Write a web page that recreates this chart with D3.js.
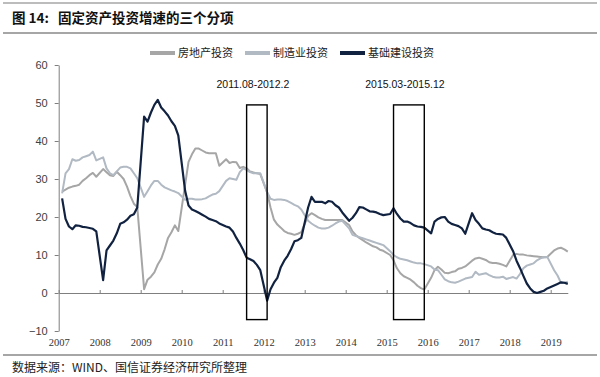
<!DOCTYPE html>
<html>
<head>
<meta charset="utf-8">
<script src="https://cdn.jsdelivr.net/npm/d3@7"></script>
<style>
  body { margin: 0; background: #fff; }
  svg { display: block; font-family: "Liberation Sans", Arial, sans-serif; }
</style>
</head>
<body>
<div id="chart"></div>
<script>
// tick labels / categories
var years = [2007, 2008, 2009, 2010, 2011, 2012, 2013, 2014, 2015, 2016, 2017, 2018, 2019];
var yTicks = [-10, 0, 10, 20, 30, 40, 50, 60];
// cumulative data is reported Feb..Dec (Jan merged into Feb); 2019 ends in June
var fullYearMonths = [2, 3, 4, 5, 6, 7, 8, 9, 10, 11, 12];
var lastYearMonths = [2, 3, 4, 5, 6];

var seriesNames = ["房地产投资", "制造业投资", "基础建设投资"];
var seriesColors = ["#a6a6a6", "#b1b9c3", "#112240"];

// 房地产投资 (%), one row per year
var realEstate = [
  26.7, 27.2, 27.7, 28.0, 28.2, 28.5, 29.5, 30.2, 31.0, 31.6, 30.6,
  32.6, 31.8, 31.0, 30.8, 31.9, 31.0, 30.0, 28.0, 25.5, 23.5, 22.6,
  1.0, 3.5, 4.3, 5.4, 7.5, 9.0, 11.5, 14.5, 16.0, 17.8, 16.3,
  28.5, 34.5, 36.5, 38.0, 38.0, 37.5, 37.0, 36.8, 36.8, 36.8, 33.5,
  35.2, 34.2, 34.5, 34.4, 32.9, 33.2, 32.8, 32.0, 31.7, 31.5, 31.3,
  26.5, 22.5, 19.3, 18.0, 17.2, 16.3, 15.8, 15.6, 15.3, 15.6, 16.0,
  20.3, 21.0, 20.5, 19.9, 19.5, 19.2, 19.2, 19.2, 19.2, 19.2, 19.2,
  17.9, 16.2, 15.2, 14.5, 13.9, 13.3, 12.8, 12.3, 12.0, 11.4, 11.1,
  10.0, 8.6, 6.5, 5.2, 4.4, 4.0, 3.5, 2.8, 1.9, 1.3, 0.9,
  4.0, 6.0, 6.9, 6.2, 5.3, 5.2, 5.5, 5.7, 6.4, 6.6, 7.0,
  8.5, 9.1, 9.3, 9.0, 8.7, 8.1, 7.9, 7.9, 7.7, 7.4, 7.0,
  10.0, 10.3, 10.1, 10.1, 9.9, 9.8, 9.7, 9.6, 9.5, 9.4, 9.5,
  11.2, 11.7, 11.9, 11.5, 10.9
];

// 制造业投资 (%)
var manufacturing = [
  26.2, 31.5, 32.6, 35.2, 34.8, 35.0, 35.7, 36.0, 36.3, 37.2, 34.9,
  35.7, 32.8, 31.5, 31.0, 32.0, 33.0, 33.2, 33.2, 32.8, 31.5, 30.2,
  25.3, 26.8, 28.3, 29.5, 29.5, 28.5, 27.8, 27.4, 27.0, 26.7, 26.3,
  24.5, 24.8, 24.8, 24.6, 24.6, 24.7, 24.9, 25.4, 25.9, 26.1, 26.8,
  29.5, 30.2, 30.0, 29.8, 31.8, 32.8, 32.4, 31.8, 31.5, 31.5, 31.5,
  26.5, 24.8, 24.5, 24.6, 24.6, 24.5, 24.2, 23.7, 23.2, 22.8, 22.0,
  19.0, 18.3, 17.7, 17.2, 17.0, 17.0, 17.2, 17.7, 18.3, 18.8, 19.0,
  17.0, 15.3, 15.0, 14.7, 14.4, 14.1, 13.8, 13.5, 13.2, 12.9, 12.6,
  11.0, 10.0, 9.4, 9.0, 8.8, 8.6, 8.3, 8.0, 7.8, 7.8, 7.6,
  7.0, 6.2, 6.0, 4.8, 3.6, 3.1, 2.8, 2.7, 3.0, 3.4, 3.8,
  4.2, 5.6, 4.8, 5.0, 5.2, 4.7, 4.3, 4.1, 4.1, 4.3, 3.7,
  4.2, 3.8, 5.0, 6.5, 7.2, 7.5, 7.8, 8.6, 9.1, 9.4, 9.5,
  6.0, 4.6, 2.7, 2.7, 3.0
];

// 基础建设投资 (%)
var infrastructure = [
  24.9, 19.5, 17.5, 16.8, 17.8, 17.7, 17.4, 17.3, 17.1, 16.9, 16.2,
  3.4, 11.2, 12.5, 13.8, 15.7, 18.2, 18.6, 19.3, 20.3, 20.7, 22.5,
  46.4, 45.1, 47.5, 49.5, 50.8, 48.8, 47.8, 46.7, 45.2, 44.0, 41.5,
  26.9, 23.0, 22.0, 21.6, 21.1, 20.6, 20.1, 19.5, 19.2, 18.9, 18.3,
  17.5, 17.2, 16.2, 14.5, 13.0, 11.3, 9.3, 8.9, 8.4, 7.4, 6.0,
  -2.0, 1.0, 2.7, 4.0, 6.8, 8.5, 9.8, 11.5, 13.6, 13.9, 14.5,
  22.5, 25.3, 24.0, 24.0, 24.0, 23.6, 24.2, 24.0, 23.1, 22.5, 21.2,
  19.0, 19.8, 21.0, 22.6, 22.5, 22.0, 21.5, 21.4, 21.2, 20.8, 20.5,
  20.8, 22.3, 20.8, 19.6, 18.8, 18.8, 18.4, 17.8, 17.5, 17.4, 17.2,
  15.7, 18.8, 19.5, 19.9, 20.0, 18.8, 18.2, 17.9, 17.6, 17.0, 15.6,
  21.0, 19.2, 18.2, 17.0, 16.7, 16.5, 16.0, 15.6, 15.5, 15.4, 14.5,
  11.0, 8.5, 6.6, 4.5, 2.5, 1.2, 0.3, 0.0, 0.3, 0.6, 1.2,
  2.0, 2.4, 2.8, 2.7, 2.4
];

// highlighted windows
var windowLabels = ["2011.08-2012.2", "2015.03-2015.12"];
var windowFrom = [[2011, 8], [2015, 3]];
var windowTo = [[2012, 2], [2015, 12]];
var windowRange = [-7, 49.5];

function init() {
    var w = 600, h = 377;

    // month positions as decimal years
    var dates = [];
    years.forEach(function(y) {
        var ms = (y === 2019) ? lastYearMonths : fullYearMonths;
        ms.forEach(function(m) { dates.push(y + (m - 1) / 12); });
    });
    function ym(p) { return p[0] + (p[1] - 1) / 12; }

    var x0 = 58.7, yearW = 41;
    var xScale = d3.scaleLinear()
                   .domain([2007, 2019 + 5 / 12])
                   .range([x0, x0 + yearW * (12 + 5 / 12)]);
    var yScale = d3.scaleLinear()
                   .domain([-10, 60])
                   .range([331, 65]);

    var svg = d3.select("#chart").append("svg")
                .attr("width", w)
                .attr("height", h);

    // header / footer rules
    svg.append("line").attr("x1", 3).attr("x2", 597).attr("y1", 3).attr("y2", 3)
       .attr("stroke", "#a6a6a6").attr("stroke-width", 1.5);
    svg.append("line").attr("x1", 3).attr("x2", 597).attr("y1", 33).attr("y2", 33)
       .attr("stroke", "#a6a6a6").attr("stroke-width", 2);
    svg.append("line").attr("x1", 3).attr("x2", 597).attr("y1", 355).attr("y2", 355)
       .attr("stroke", "#a6a6a6").attr("stroke-width", 2);

    svg.append("text")
       .attr("x", 12).attr("y", 23)
       .style("white-space", "pre")
       .style("font-family", "'Noto Sans CJK SC', sans-serif")
       .style("font-size", "13.5px").style("font-weight", "bold").attr("fill", "#111")
       .text("图 14:   固定资产投资增速的三个分项");

    svg.append("text")
       .attr("x", 12).attr("y", 372)
       .style("font-family", "'Noto Sans CJK SC', sans-serif")
       .style("font-size", "12px").attr("fill", "#222")
       .text("数据来源：WIND、国信证券经济研究所整理");

    // y axis
    var yAxis = d3.axisLeft(yScale)
                  .tickValues(yTicks)
                  .tickSizeInner(4)
                  .tickSizeOuter(0)
                  .tickPadding(7);
    var gy = svg.append("g")
                .attr("transform", "translate(" + x0 + ",0)")
                .call(yAxis);
    gy.selectAll("path, line").attr("stroke", "#7f7f7f");
    gy.selectAll("text").style("font-size", "11px").attr("fill", "#404040")
      .style("font-family", "'Liberation Sans', Arial, sans-serif");

    // x axis on the zero line, labels at the bottom
    var xAxis = d3.axisBottom(xScale)
                  .tickValues(years)
                  .tickFormat(d3.format("d"))
                  .tickSizeInner(-3)
                  .tickSizeOuter(0);
    var gx = svg.append("g")
                .attr("transform", "translate(0," + yScale(0) + ")")
                .call(xAxis);
    gx.selectAll("path, line").attr("stroke", "#7f7f7f");
    gx.selectAll("text").attr("y", 46)
      .style("font-size", "10.5px").attr("fill", "#333")
      .style("font-family", "'Liberation Serif', 'Times New Roman', serif");

    // lines
    var series = [realEstate, manufacturing, infrastructure];
    var line = d3.line()
                 .x(function(d, i) { return xScale(dates[i]); })
                 .y(function(d) { return yScale(d); });

    svg.selectAll("path.series")
       .data(series)
       .enter()
       .append("path")
       .attr("class", "series")
       .attr("d", line)
       .attr("fill", "none")
       .attr("stroke", function(d, i) { return seriesColors[i]; })
       .attr("stroke-width", function(d, i) { return i === 2 ? 2.2 : 2; })
       .attr("stroke-linejoin", "round");

    // window boxes
    windowLabels.forEach(function(lbl, i) {
        var xa = xScale(ym(windowFrom[i])), xb = xScale(ym(windowTo[i]));
        svg.append("rect")
           .attr("x", xa).attr("y", yScale(windowRange[1]))
           .attr("width", xb - xa)
           .attr("height", yScale(windowRange[0]) - yScale(windowRange[1]))
           .attr("fill", "none").attr("stroke", "#000").attr("stroke-width", 1.4);
        svg.append("text")
           .attr("x", (xa + xb) / 2 - 4).attr("y", 88)
           .attr("text-anchor", "middle")
           .style("font-size", "10.5px").attr("fill", "#111")
           .text(lbl);
    });

    // legend
    var lx = 150, ly = 53;
    seriesNames.forEach(function(name, i) {
        svg.append("line")
           .attr("x1", lx).attr("x2", lx + 25).attr("y1", ly).attr("y2", ly)
           .attr("stroke", seriesColors[i]).attr("stroke-width", 4);
        var t = svg.append("text")
           .attr("x", lx + 28).attr("y", ly + 4)
           .style("font-family", "'Noto Sans CJK SC', sans-serif")
           .style("font-size", "11px").attr("fill", "#222")
           .text(name);
        lx += 28 + t.node().getComputedTextLength() + 12;
    });
}

window.onload = init;
</script>
</body>
</html>
